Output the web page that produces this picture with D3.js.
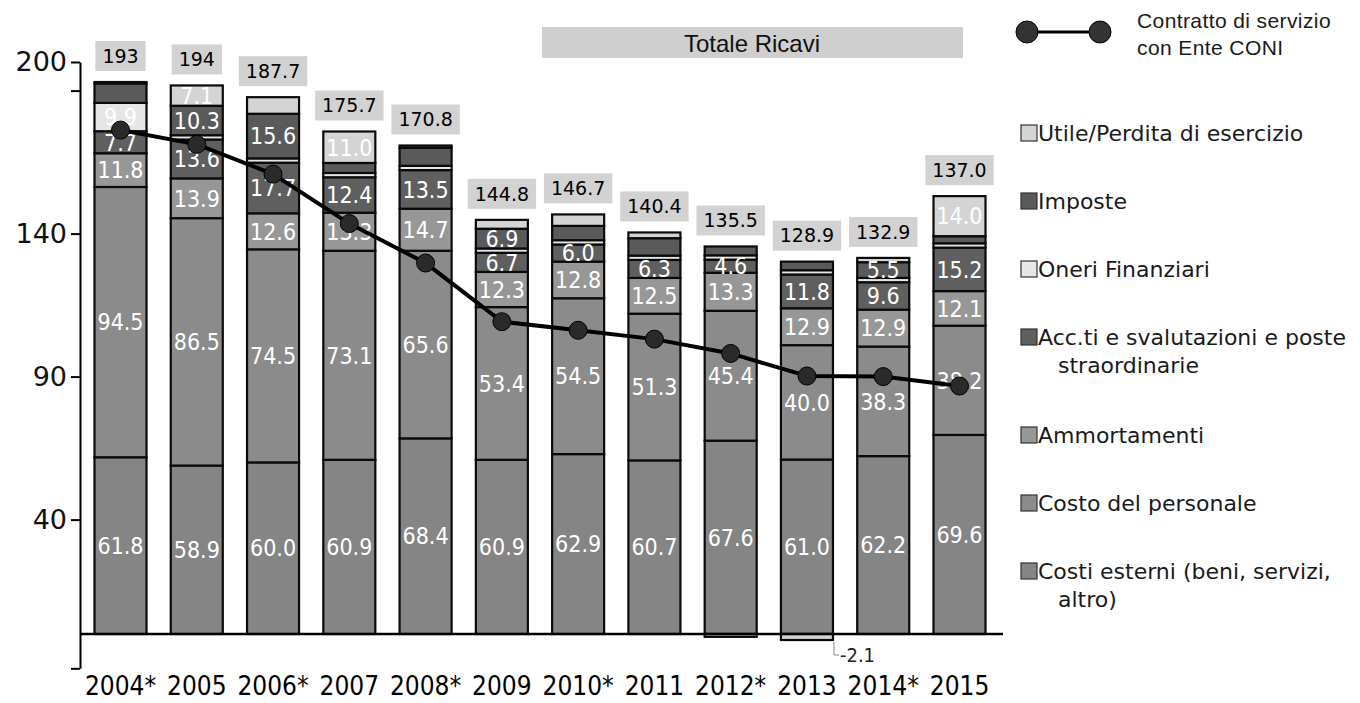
<!DOCTYPE html>
<html>
<head>
<meta charset="utf-8">
<script src="https://cdn.jsdelivr.net/npm/d3@7"></script>
<style>
  body { margin: 0; background: #fff; }
  svg { display: block; }
</style>
</head>
<body>
<script>
// ---- data (M euro) ----
const years = ["2004*", "2005", "2006*", "2007", "2008*", "2009", "2010*", "2011", "2012*", "2013", "2014*", "2015"];
const totaleRicavi = ["193", "194", "187.7", "175.7", "170.8", "144.8", "146.7", "140.4", "135.5", "128.9", "132.9", "137.0"];

const costiEsterni    = [61.8, 58.9, 60.0, 60.9, 68.4, 60.9, 62.9, 60.7, 67.6, 61.0, 62.2, 69.6];
const costoPersonale  = [94.5, 86.5, 74.5, 73.1, 65.6, 53.4, 54.5, 51.3, 45.4, 40.0, 38.3, 38.2];
const ammortamenti    = [11.8, 13.9, 12.6, 13.3, 14.7, 12.3, 12.8, 12.5, 13.3, 12.9, 12.9, 12.1];
const accantonamenti  = [7.7, 13.6, 17.7, 12.4, 13.5, 6.7, 6.0, 6.3, 4.6, 11.8, 9.6, 15.2];
const oneriFinanziari = [9.9, 1.5, 1.5, 1.5, 1.5, 1.5, 1.5, 1.5, 1.5, 1.5, 1.5, 1.5];
const imposte         = [6.8, 10.3, 15.6, 3.5, 6.3, 6.9, 5.0, 6.1, 3.1, 3.0, 5.5, 2.5];
const utile           = [0.5, 7.1, 5.8, 11.0, 0.8, 3.1, 4.0, 2.0, -1.0, -2.1, 1.5, 14.0];

// which values are printed inside the bars (1 = printed)
const shownEsterni  = [1, 1, 1, 1, 1, 1, 1, 1, 1, 1, 1, 1];
const shownPers     = [1, 1, 1, 1, 1, 1, 1, 1, 1, 1, 1, 1];
const shownAmm      = [1, 1, 1, 1, 1, 1, 1, 1, 1, 1, 1, 1];
const shownAcc      = [1, 1, 1, 1, 1, 1, 1, 1, 1, 1, 1, 1];
const shownOneri    = [1, 0, 0, 0, 0, 0, 0, 0, 0, 0, 0, 0];
const shownImposte  = [0, 1, 1, 0, 0, 1, 0, 0, 0, 0, 1, 0];
const shownUtile    = [0, 1, 0, 1, 0, 0, 0, 0, 0, 0, 0, 1];

const contrattoConi = [176.2, 171.2, 160.8, 143.5, 129.7, 109.2, 106.2, 103.1, 98.1, 90.2, 90.0, 86.7];

const yTicks = [200, 140, 90, 40];

// stack order, bottom to top
const series = [
  { key: "esterni", name: ["Costi esterni (beni, servizi,", "altro)"], values: costiEsterni, shown: shownEsterni, color: "#858585" },
  { key: "personale", name: ["Costo del personale"], values: costoPersonale, shown: shownPers, color: "#8b8b8b" },
  { key: "ammortamenti", name: ["Ammortamenti"], values: ammortamenti, shown: shownAmm, color: "#979797" },
  { key: "acc", name: ["Acc.ti e svalutazioni e poste", "straordinarie"], values: accantonamenti, shown: shownAcc, color: "#5f5f5f" },
  { key: "oneri", name: ["Oneri Finanziari"], values: oneriFinanziari, shown: shownOneri, color: "#e6e6e6" },
  { key: "imposte", name: ["Imposte"], values: imposte, shown: shownImposte, color: "#5a5a5a" },
  { key: "utile", name: ["Utile/Perdita di esercizio"], values: utile, shown: shownUtile, color: "#d4d4d4" }
];

const table = years.map((yr, i) => {
  const row = { year: yr, i };
  series.forEach(s => row[s.key] = s.values[i]);
  return row;
});

const W = 1360, H = 703;
const svg = d3.select("body").append("svg").attr("width", W).attr("height", H);

const x = d3.scaleBand().domain(years).range([80, 1000]).paddingInner(0.318).paddingOuter(0.19);
const y = d3.scaleLinear().domain([0, 200]).range([634, 62]);

const stacked = d3.stack()
  .keys(series.map(s => s.key))
  .offset(d3.stackOffsetDiverging)(table);

// ---- bars ----
const gBars = svg.append("g");
stacked.forEach((layer, si) => {
  const s = series[si];
  gBars.selectAll(null)
    .data(layer)
    .join("rect")
      .attr("x", d => x(d.data.year))
      .attr("width", x.bandwidth())
      .attr("y", d => y(Math.max(d[0], d[1])))
      .attr("height", d => Math.abs(y(d[0]) - y(d[1])))
      .attr("fill", s.color)
      .attr("stroke", "#0a0a0a")
      .attr("stroke-width", 2.2);
});

// labels inside segments
const gSegLab = svg.append("g")
  .attr("font-family", "'DejaVu Sans Condensed', 'DejaVu Sans', sans-serif")
  .attr("font-size", 23)
  .attr("fill", "#fff")
  .attr("text-anchor", "middle");
stacked.forEach((layer, si) => {
  const s = series[si];
  gSegLab.selectAll(null)
    .data(layer.filter(d => s.shown[d.data.i]))
    .join("text")
      .attr("x", d => x(d.data.year) + x.bandwidth() / 2)
      .attr("y", d => (y(d[0]) + y(d[1])) / 2)
      .attr("dy", "0.36em")
      .text(d => s.values[d.data.i].toFixed(1));
});

// negative result 2013, printed outside with a leader
const negIdx = utile.findIndex(v => v < -2);
{
  const bx = x(years[negIdx]) + x.bandwidth();
  const by = y(utile[negIdx]);
  svg.append("path")
    .attr("d", `M${bx + 1},${by + 2}V${by + 15}H${bx + 6}`)
    .attr("fill", "none").attr("stroke", "#888").attr("stroke-width", 1);
  svg.append("text")
    .attr("x", bx + 7).attr("y", by + 15).attr("dy", "0.36em")
    .attr("font-family", "'DejaVu Sans Condensed', 'DejaVu Sans', sans-serif")
    .attr("font-size", 20).attr("fill", "#222")
    .text(utile[negIdx].toFixed(1));
}

// totals above bars
const tops = years.map((yr, i) => d3.max(stacked, l => Math.max(l[i][0], l[i][1])));
const gTot = svg.append("g")
  .attr("font-family", "'DejaVu Sans', sans-serif")
  .attr("font-size", 19);
years.forEach((yr, i) => {
  const cx = x(yr) + x.bandwidth() / 2;
  const cy = y(tops[i]) - 26;
  const g = gTot.append("g").attr("transform", `translate(${cx},${cy})`);
  const rect = g.append("rect").attr("fill", "#d2d2d2");
  const t = g.append("text").attr("text-anchor", "middle").attr("dy", "0.36em").attr("fill", "#000").text(totaleRicavi[i]);
  const w = t.node().getComputedTextLength() + 14;
  rect.attr("x", -w / 2).attr("y", -15).attr("width", w).attr("height", 30);
});

// ---- axes ----
const yAxisScale = y.copy().domain([-12, 200]).range([y(-12), y(200)]);
const yAxis = svg.append("g")
  .attr("transform", "translate(80,0)")
  .call(d3.axisLeft(yAxisScale)
    .tickValues([200, 190, 140, 90, 40, -12])
    .tickSize(9).tickSizeOuter(0).tickPadding(4)
    .tickFormat(d => yTicks.includes(d) ? d : ""));
yAxis.select(".domain").attr("stroke", "#000").attr("stroke-width", 2);
yAxis.selectAll(".tick line").attr("stroke", "#000").attr("stroke-width", 2);
yAxis.selectAll("text")
  .attr("font-family", "'DejaVu Sans', sans-serif")
  .attr("font-size", 27).attr("fill", "#111");

svg.append("line")
  .attr("x1", 80).attr("x2", 1003)
  .attr("y1", y(0)).attr("y2", y(0))
  .attr("stroke", "#000").attr("stroke-width", 2.5);

const xAxis = svg.append("g")
  .attr("transform", `translate(0,${y(0)})`)
  .call(d3.axisBottom(x).tickSize(0).tickPadding(43));
xAxis.select(".domain").remove();
xAxis.selectAll("text")
  .attr("font-family", "'DejaVu Sans Condensed', 'DejaVu Sans', sans-serif")
  .attr("font-size", 26).attr("fill", "#000");

// ---- line: contratto di servizio ----
const cx = d => x(years[d]) + x.bandwidth() / 2;
svg.append("path")
  .datum(contrattoConi)
  .attr("fill", "none").attr("stroke", "#000").attr("stroke-width", 4)
  .attr("d", d3.line().x((d, i) => cx(i)).y(d => y(d)));
svg.append("g").selectAll("circle")
  .data(contrattoConi)
  .join("circle")
    .attr("cx", (d, i) => cx(i)).attr("cy", d => y(d))
    .attr("r", 9).attr("fill", "#2a2a2a").attr("stroke", "#000").attr("stroke-width", 1);

// ---- title ----
svg.append("rect").attr("x", 542).attr("y", 27).attr("width", 421).attr("height", 31).attr("fill", "#cfcfcf");
svg.append("text")
  .attr("x", 752).attr("y", 43).attr("dy", "0.36em")
  .attr("text-anchor", "middle")
  .attr("font-family", "'Liberation Sans', Arial, sans-serif")
  .attr("font-size", 24).attr("fill", "#111")
  .text("Totale Ricavi");

// ---- legend ----
const leg = svg.append("g")
  .attr("font-family", "'DejaVu Sans', sans-serif")
  .attr("font-size", 22).attr("fill", "#1a1a1a");

leg.append("line").attr("x1", 1027).attr("x2", 1100).attr("y1", 32).attr("y2", 32)
  .attr("stroke", "#000").attr("stroke-width", 3);
[1027, 1100].forEach(px => leg.append("circle").attr("cx", px).attr("cy", 32).attr("r", 11)
  .attr("fill", "#333").attr("stroke", "#000"));
leg.append("text").attr("x", 1137).attr("y", 20).attr("dy", "0.36em")
  .attr("font-family", "'Liberation Sans', Arial, sans-serif").attr("font-size", 21)
  .attr("letter-spacing", 0.4).text("Contratto di servizio");
leg.append("text").attr("x", 1137).attr("y", 47).attr("dy", "0.36em")
  .attr("font-family", "'Liberation Sans', Arial, sans-serif").attr("font-size", 21)
  .attr("letter-spacing", 0.4).text("con Ente CONI");

let ly = 133;
series.slice().reverse().forEach(s => {
  leg.append("rect").attr("x", 1021).attr("y", ly - 8).attr("width", 16).attr("height", 16)
    .attr("fill", s.color).attr("stroke", "#333").attr("stroke-width", 1.2);
  leg.append("text").attr("x", 1038).attr("y", ly).attr("dy", "0.36em").text(s.name[0]);
  if (s.name[1]) {
    leg.append("text").attr("x", 1058).attr("y", ly + 28).attr("dy", "0.36em").text(s.name[1]);
    ly += 30;
  }
  ly += 68;
});
</script>
</body>
</html>
